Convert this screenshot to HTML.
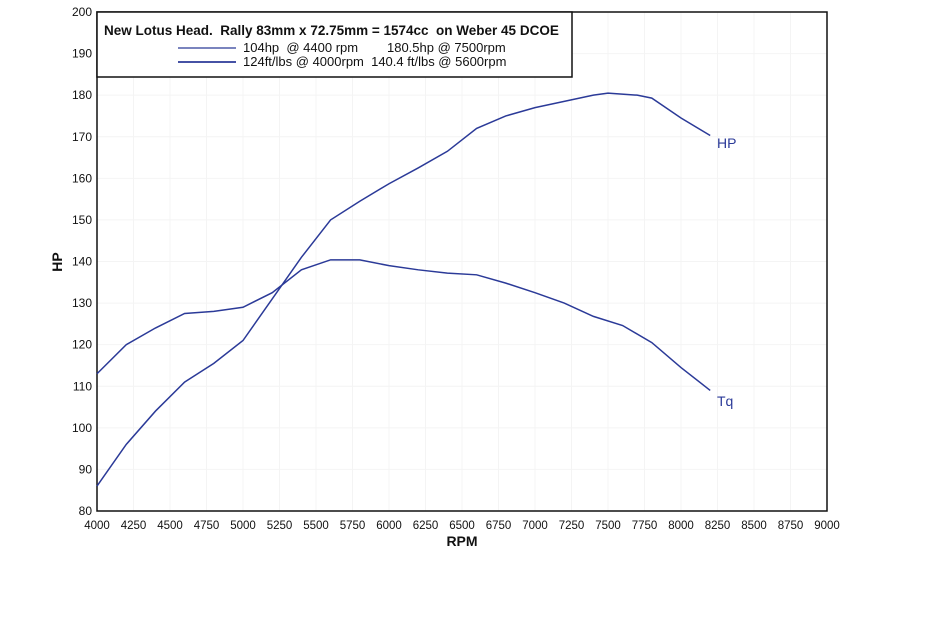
<!DOCTYPE html>
<html><head><meta charset="utf-8"><style>
body{margin:0;background:#fff;}
svg{display:block;font-family:"Liberation Sans",Arial,sans-serif;}
svg text{white-space:pre;}
</style></head><body>
<svg id="c" width="927" height="621"></svg>
<script>
const rpm=[4000,4200,4400,4600,4800,5000,5200,5400,5600,5800,6000,6200,6400,6600,6800,7000,7200,7400,7500,7700,7800,8000,8200];
const hp=[86,96,104,111,115.5,121,131,141,150,154.5,158.7,162.5,166.5,172,175,177,178.5,180,180.5,180,179.3,174.5,170.3];
const tqRpm=[4000,4200,4400,4600,4800,5000,5200,5400,5600,5800,6000,6200,6400,6600,6800,7000,7200,7400,7600,7800,8000,8200];
const tq=[113,120,124,127.5,128,129,132.5,138,140.4,140.4,139,138,137.2,136.8,134.8,132.5,130,126.8,124.6,120.5,114.5,109];
const xTicks=[4000,4250,4500,4750,5000,5250,5500,5750,6000,6250,6500,6750,7000,7250,7500,7750,8000,8250,8500,8750,9000];
const yTicks=[80,90,100,110,120,130,140,150,160,170,180,190,200];
const L=97,R=827,T=12,B=511;
const x=v=>L+(v-4000)/5000*(R-L);
const y=v=>B-(v-80)/120*(B-T);
const svg=document.getElementById('c');
const NS='http://www.w3.org/2000/svg';
function mk(tag,attrs,parent){const e=document.createElementNS(NS,tag);for(const k in attrs)e.setAttribute(k,attrs[k]);(parent||svg).appendChild(e);return e;}
xTicks.forEach(t=>{
 const g=mk('line',{x1:x(t),x2:x(t),y1:T,y2:B,stroke:'#f4f4f4','stroke-width':1});
 
 
 const tx=mk('text',{x:x(t),y:B+18,'text-anchor':'middle','font-size':11.5,fill:'#111'});
 tx.textContent=t;
 
 
});
yTicks.forEach(t=>{
 const g=mk('line',{x1:L,x2:R,y1:y(t),y2:y(t),stroke:'#f4f4f4','stroke-width':1});
 
 
 const tx=mk('text',{x:L-5,y:y(t)+4,'text-anchor':'end','font-size':12,fill:'#111'});
 tx.textContent=t;
 
 
});
const frame=mk('rect',{x:L,y:T,width:R-L,height:B-T,fill:'none',stroke:'#111','stroke-width':1.5});


function line(xs,ys,name){
 const p=mk('polyline',{points:xs.map((v,i)=>x(v)+','+y(ys[i])).join(' '),fill:'none',stroke:'#2b3a98','stroke-width':1.5});
 
 
}
line(rpm,hp,'hp-line');
line(tqRpm,tq,'torque-line');
const lg=mk('g',{});


mk('rect',{x:L,y:T,width:475,height:65,fill:'#fff',stroke:'#111','stroke-width':1.5},lg);
const t1=mk('text',{x:104,y:35,'font-size':13.5,'font-weight':'bold',fill:'#111'},lg);t1.textContent='New Lotus Head.  Rally 83mm x 72.75mm = 1574cc  on Weber 45 DCOE';


mk('line',{x1:178,x2:236,y1:48,y2:48,stroke:'#2b3a98','stroke-width':1.2},lg);
mk('line',{x1:178,x2:236,y1:62,y2:62,stroke:'#2b3a98','stroke-width':1.8},lg);
const t2=mk('text',{x:243,y:52,'font-size':13,fill:'#111'},lg);t2.textContent='104hp  @ 4400 rpm        180.5hp @ 7500rpm';


const t3=mk('text',{x:243,y:66,'font-size':13,fill:'#111'},lg);t3.textContent='124ft/lbs @ 4000rpm  140.4 ft/lbs @ 5600rpm';


const a=mk('text',{x:717,y:148,'font-size':14,fill:'#2b3a98'});a.textContent='HP';


const b=mk('text',{x:717,y:406,'font-size':14,fill:'#2b3a98'});b.textContent='Tq';


const xt=mk('text',{x:462,y:546,'text-anchor':'middle','font-size':14,'font-weight':'bold',fill:'#111'});xt.textContent='RPM';


const yt=mk('text',{x:62,y:262,'text-anchor':'middle','font-size':14,'font-weight':'bold',fill:'#111',transform:'rotate(-90 62 262)'});yt.textContent='HP';


</script>
</body></html>
